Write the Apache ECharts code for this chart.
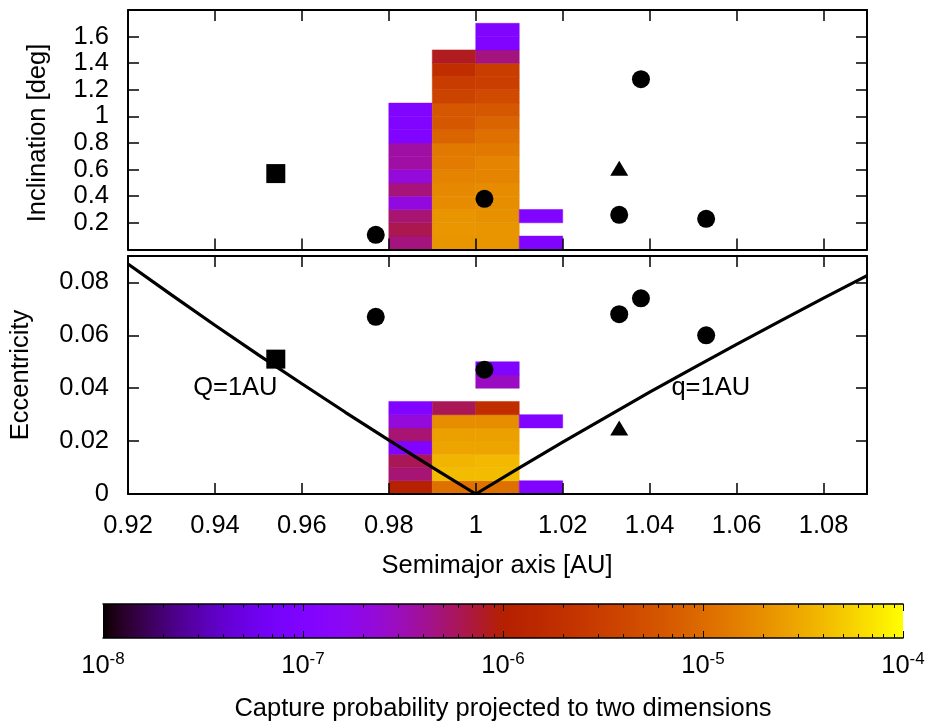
<!DOCTYPE html>
<html><head><meta charset="utf-8">
<script src="https://cdn.jsdelivr.net/npm/echarts@6/dist/echarts.min.js"></script>
<style>html,body{margin:0;padding:0;background:#fff}#c{width:929px;height:727px}</style>
</head><body><div id="c"></div>
<script>
// ---------- tick labels ----------
const xTicks = [0.92, 0.94, 0.96, 0.98, 1.00, 1.02, 1.04, 1.06, 1.08];
const incTicks = [0.2, 0.4, 0.6, 0.8, 1.0, 1.2, 1.4, 1.6];
const eccTicks = [0, 0.02, 0.04, 0.06, 0.08];
const cbExponents = [-8, -7, -6, -5, -4];

// ---------- histogram bins ----------
const aBinStarts = [0.98, 0.99, 1.00, 1.01];
const aBinWidth = 0.01;
const incBinWidth = 0.1;
const eccBinWidth = 0.005;

// log10(capture probability) per bin, listed from the lowest bin upward (null = empty bin)
// Inclination panel
const incLogP_a098 = [-6.33, -6.20, -6.29, -6.68, -6.32, -6.66, -6.44, -6.44, -7.0, -7.0, -7.0];
const incLogP_a099 = [-4.66, -4.65, -4.66, -4.74, -4.75, -4.79, -4.86, -4.89, -5.07, -5.20, -5.20, -5.44, -5.54, -5.73, -6.08];
const incLogP_a100 = [-4.66, -4.66, -4.69, -4.71, -4.74, -4.79, -4.79, -4.89, -4.96, -5.07, -5.20, -5.34, -5.50, -5.52, -6.33, -7.0, -7.0];
const incLogP_a101 = [-7.0, null, -7.0];
// Eccentricity panel
const eccLogP_a098 = [-5.96, -6.30, -6.22, -7.0, -6.29, -6.66, -7.0];
const eccLogP_a099 = [-4.96, -4.39, -4.44, -4.55, -4.58, -4.72, -6.22];
const eccLogP_a100 = [-4.96, -4.39, -4.41, -4.55, -4.58, -4.72, -5.73, null, -6.55, -7.0];
const eccLogP_a101 = [-7.0, null, null, null, null, -7.0];

// ---------- objects ----------
const squareA = [0.954], squareInc = [0.57], squareEcc = [0.051];
const circleA = [0.977, 1.002, 1.033, 1.038, 1.053];
const circleInc = [0.11, 0.38, 0.26, 1.28, 0.23];
const circleEcc = [0.067, 0.047, 0.068, 0.074, 0.060];
const triangleA = [1.033], triangleInc = [0.61], triangleEcc = [0.025];

// ---------- Q = 1 AU and q = 1 AU curves ----------
const bigQA = [0.92, 0.93, 0.94, 0.95, 0.96, 0.97, 0.98, 0.99, 1.00];
const bigQE = [0.0870, 0.0753, 0.0638, 0.0526, 0.0417, 0.0309, 0.0204, 0.0101, 0.0];
const smallQA = [1.00, 1.01, 1.02, 1.03, 1.04, 1.05, 1.06, 1.07, 1.08, 1.09];
const smallQE = [0.0, 0.0099, 0.0196, 0.0291, 0.0385, 0.0476, 0.0566, 0.0654, 0.0741, 0.0826];
const annotText = ['Q=1AU', 'q=1AU'];
const annotA = [0.935, 1.045];
const annotE = [0.040, 0.040];

// ---------- build ----------
const FONT = 'Liberation Sans';
const FS = 25.5;
function pal(x) {
  const r = Math.sqrt(x), g = x * x * x, b = Math.max(0, Math.sin(2 * Math.PI * x));
  const h = v => Math.round(Math.min(1, Math.max(0, v)) * 255).toString(16).padStart(2, '0');
  return '#' + h(r) + h(g) + h(b);
}
const palStops = [];
for (let k = 0; k <= 100; k++) palStops.push(pal(k / 100));

function cells(cols, bw) {
  const out = [];
  cols.forEach((col, ci) => {
    const a0 = aBinStarts[ci];
    col.forEach((v, k) => {
      if (v === null) return;
      out.push([a0, a0 + aBinWidth, k * bw, (k + 1) * bw, v]);
    });
  });
  return out;
}
const incCells = cells([incLogP_a098, incLogP_a099, incLogP_a100, incLogP_a101], incBinWidth);
const eccCells = cells([eccLogP_a098, eccLogP_a099, eccLogP_a100, eccLogP_a101], eccBinWidth);

function rectItem(params, api) {
  const p0 = api.coord([api.value(0), api.value(3)]);
  const p1 = api.coord([api.value(1), api.value(2)]);
  const col = api.visual('color');
  return {
    type: 'rect',
    shape: { x: p0[0], y: p0[1], width: p1[0] - p0[0], height: p1[1] - p0[1] },
    style: { fill: col, stroke: col, lineWidth: 0.5 }
  };
}
const zip = (a, b) => a.map((v, i) => [v, b[i]]);

const minorCb = [];
for (let e = -8; e < -4; e++) for (let k = 2; k <= 9; k++) minorCb.push(e + Math.log10(k));

const tickStyle = { color: '#000', width: 1.5 };
const lineStyleAx = { color: '#000', width: 2 };
function ax(grid, pos, labels, ticks, min, max) {
  return {
    type: 'value', gridIndex: grid, position: pos, min: min, max: max, z: 10,
    axisLine: { show: true, onZero: false, lineStyle: lineStyleAx },
    axisTick: { show: true, inside: true, length: 11, lineStyle: tickStyle, customValues: ticks },
    axisLabel: { show: labels, customValues: ticks, color: '#000', fontSize: FS, fontFamily: FONT, margin: 19 },
    splitLine: { show: false }
  };
}
function cbAx(pos, major) {
  return {
    type: 'value', gridIndex: 2, position: pos, min: -8, max: -4, z: 10, offset: 0,
    axisLine: { show: major, onZero: false, lineStyle: { color: '#000', width: 1.5 } },
    axisTick: { show: true, inside: true, length: major ? 7 : 4, lineStyle: { color: '#000', width: 1 },
                customValues: major ? cbExponents : minorCb },
    axisLabel: {
      show: major && pos === 'bottom', customValues: cbExponents, margin: 13,
      formatter: v => '{b|10}{s|' + Math.round(v) + '}',
      rich: {
        b: { fontSize: FS, fontFamily: FONT, color: '#000' },
        s: { fontSize: 17, fontFamily: FONT, color: '#000', padding: [0, 0, 13, 0] }
      }
    },
    splitLine: { show: false }
  };
}
const dot = { color: '#000', opacity: 1 };
const textStyle = t => ({ text: t, fontSize: FS, fontFamily: FONT, fill: '#000', align: 'center', verticalAlign: 'middle' });

const option = {
  animation: false,
  backgroundColor: '#fff',
  grid: [
    { left: 128, top: 10, width: 739, height: 239.4 },
    { left: 128, top: 256, width: 739, height: 238 },
    { left: 103, top: 604, width: 800, height: 34 }
  ],
  xAxis: [
    ax(0, 'bottom', false, xTicks, 0.92, 1.09),
    ax(0, 'top', false, xTicks, 0.92, 1.09),
    ax(1, 'bottom', true, xTicks, 0.92, 1.09),
    ax(1, 'top', false, xTicks, 0.92, 1.09),
    cbAx('bottom', true), cbAx('bottom', false), cbAx('top', true), cbAx('top', false)
  ],
  yAxis: [
    ax(0, 'left', true, incTicks, 0, 1.8),
    ax(0, 'right', false, incTicks, 0, 1.8),
    ax(1, 'left', true, eccTicks, 0, 0.09),
    ax(1, 'right', false, eccTicks, 0, 0.09),
    { type: 'value', gridIndex: 2, min: 0, max: 1, show: false }
  ],
  visualMap: {
    type: 'continuous', show: false, min: -8, max: -4, dimension: 4,
    seriesIndex: [0, 1], inRange: { color: palStops }
  },
  series: [
    { type: 'custom', xAxisIndex: 0, yAxisIndex: 0, renderItem: rectItem, data: incCells, z: 1,
      encode: { x: [0, 1], y: [2, 3] } },
    { type: 'custom', xAxisIndex: 2, yAxisIndex: 2, renderItem: rectItem, data: eccCells, z: 1,
      encode: { x: [0, 1], y: [2, 3] } },
    // colour bar
    { type: 'custom', xAxisIndex: 4, yAxisIndex: 4, data: [[cbExponents[0], cbExponents[cbExponents.length - 1]]],
      encode: { x: [0, 1] },
      renderItem: (params, api) => {
        const p0 = api.coord([api.value(0), 1]);
        const p1 = api.coord([api.value(1), 0]);
        return { type: 'rect', shape: { x: p0[0], y: p0[1], width: p1[0] - p0[0], height: p1[1] - p0[1] },
          style: { fill: new echarts.graphic.LinearGradient(0, 0, 1, 0,
            palStops.map((c, i) => ({ offset: i / (palStops.length - 1), color: c }))) } };
      } },
    // Q / q curves
    { type: 'line', xAxisIndex: 2, yAxisIndex: 2, data: zip(bigQA, bigQE), symbol: 'none', z: 5,
      lineStyle: { color: '#000', width: 3.2, opacity: 1 } },
    { type: 'line', xAxisIndex: 2, yAxisIndex: 2, data: zip(smallQA, smallQE), symbol: 'none', z: 5,
      lineStyle: { color: '#000', width: 3.2, opacity: 1 } },
    // objects top panel
    { type: 'scatter', xAxisIndex: 0, yAxisIndex: 0, data: zip(squareA, squareInc), symbol: 'rect', symbolSize: 19, itemStyle: dot, z: 6 },
    { type: 'scatter', xAxisIndex: 0, yAxisIndex: 0, data: zip(circleA, circleInc), symbol: 'circle', symbolSize: 18, itemStyle: dot, z: 6 },
    { type: 'scatter', xAxisIndex: 0, yAxisIndex: 0, data: zip(triangleA, triangleInc), symbol: 'triangle', symbolSize: [18, 15], itemStyle: dot, z: 6 },
    // objects bottom panel
    { type: 'scatter', xAxisIndex: 2, yAxisIndex: 2, data: zip(squareA, squareEcc), symbol: 'rect', symbolSize: 19, itemStyle: dot, z: 6 },
    { type: 'scatter', xAxisIndex: 2, yAxisIndex: 2, data: zip(circleA, circleEcc), symbol: 'circle', symbolSize: 18, itemStyle: dot, z: 6 },
    { type: 'scatter', xAxisIndex: 2, yAxisIndex: 2, data: zip(triangleA, triangleEcc), symbol: 'triangle', symbolSize: [18, 15], itemStyle: dot, z: 6 },
    // annotations
    { type: 'scatter', xAxisIndex: 2, yAxisIndex: 2, symbolSize: 0, z: 7, itemStyle: { opacity: 1 },
      data: annotText.map((t, i) => ({ name: t, value: [annotA[i], annotE[i]] })),
      label: { show: true, position: 'right', distance: 0, formatter: p => p.name,
               color: '#000', opacity: 1, fontSize: FS, fontFamily: FONT } }
  ],
  graphic: [
    { type: 'text', x: 38, y: 133, rotation: Math.PI / 2, style: textStyle('Inclination [deg]') },
    { type: 'text', x: 21, y: 375, rotation: Math.PI / 2, style: textStyle('Eccentricity') },
    { type: 'text', x: 497, y: 566, style: textStyle('Semimajor axis [AU]') },
    { type: 'text', x: 503, y: 709, style: textStyle('Capture probability projected to two dimensions') }
  ]
};
const chart = echarts.init(document.getElementById('c'), null, { renderer: 'canvas' });
chart.setOption(option);
</script></body></html>
